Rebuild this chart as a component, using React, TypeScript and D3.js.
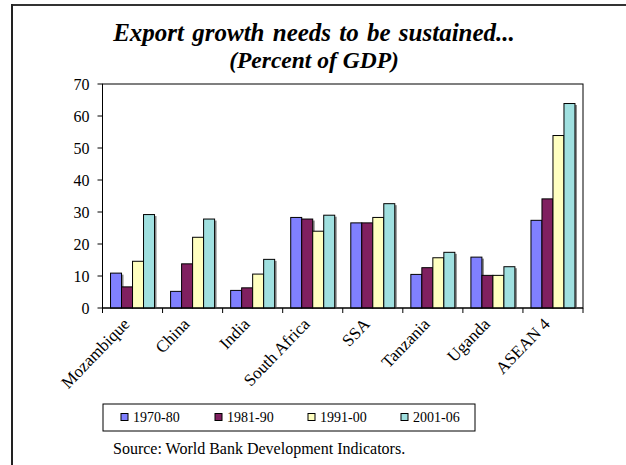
import React from "react";
import * as d3 from "d3";

const categories = ["Mozambique", "China", "India", "South Africa", "SSA", "Tanzania", "Uganda", "ASEAN 4"];
const seriesNames = ["1970-80", "1981-90", "1991-00", "2001-06"];
const s1970 = [10.9, 5.2, 5.5, 28.3, 26.6, 10.5, 15.9, 27.4];
const s1981 = [6.6, 13.8, 6.3, 27.8, 26.6, 12.6, 10.2, 34.1];
const s1991 = [14.6, 22.1, 10.6, 24.0, 28.3, 15.7, 10.2, 53.9];
const s2001 = [29.2, 27.8, 15.2, 29.0, 32.6, 17.4, 12.9, 63.9];
const yTicks = [0, 10, 20, 30, 40, 50, 60, 70];
const colors = ["#8080FF", "#802060", "#FFFFC0", "#A0E0E0"];

const series = [s1970, s1981, s1991, s2001];

export default function App() {
  const W = 626, H = 465;
  const left = 102.5, right = 583, top = 84, bottom = 308;
  const font = "Liberation Serif, Times New Roman, serif";
  const x = d3.scaleBand<string>().domain(categories).range([left, right]).paddingInner(0).paddingOuter(0);
  const y = d3.scaleLinear().domain([0, 70]).range([bottom, top]);
  const bw = 11;
  const groupW = bw * 4;

  return (
    <svg width={W} height={H} style={{ position: "absolute", left: 0, top: 0, background: "#fff", fontFamily: font }}>
      <rect x={0} y={0} width={W} height={H} fill="#fff" />
      {/* outer frame */}
      <line x1={11} y1={5} x2={W} y2={5} stroke="#333" strokeWidth={2} />
      <line x1={12} y1={4} x2={12} y2={H} stroke="#222" strokeWidth={2} />
      {/* title */}
      <text x={314} y={41} textAnchor="middle" fontSize={25} fontWeight="bold" fontStyle="italic" fill="#000" wordSpacing={2}>
        Export growth needs to be sustained...
      </text>
      <text x={314} y={68} textAnchor="middle" fontSize={23.5} fontWeight="bold" fontStyle="italic" fill="#000">
        (Percent of GDP)
      </text>
      {/* plot border */}
      <rect x={left} y={top} width={right - left} height={bottom - top} fill="none" stroke="#000" strokeWidth={1} />
      {/* bars */}
      {categories.map((c, i) => {
        const x0 = (x(c) as number) + (x.bandwidth() - groupW) / 2;
        return (
          <g key={c}>
            {series.map((s, j) => {
              const bx = x0 + j * bw;
              const by = y(s[i]);
              return (
                <g key={j}>
                  <rect x={bx + 2} y={by + 1.5} width={bw} height={Math.max(0, bottom - by - 1.5)} fill="#8a8a8a" />
                  <rect x={bx} y={by} width={bw} height={bottom - by} fill={colors[j]} stroke="#000" strokeWidth={1} />
                </g>
              );
            })}
          </g>
        );
      })}
      {/* y axis */}
      <line x1={left} y1={top} x2={left} y2={bottom} stroke="#000" strokeWidth={1} />
      {yTicks.map((t) => (
        <g key={t}>
          <line x1={left - 5} x2={left} y1={y(t)} y2={y(t)} stroke="#000" />
          <text x={left - 13} y={y(t)} dy="0.35em" textAnchor="end" fontSize={16} fill="#000">
            {t}
          </text>
        </g>
      ))}
      {/* x axis */}
      <line x1={left} y1={bottom} x2={right} y2={bottom} stroke="#000" strokeWidth={1} />
      {categories.map((c, i) => (
        <line key={"t" + i} x1={x(c) as number} x2={x(c) as number} y1={bottom} y2={bottom + 5} stroke="#000" />
      ))}
      <line x1={right} x2={right} y1={bottom} y2={bottom + 5} stroke="#000" />
      {categories.map((c) => {
        const cx = (x(c) as number) + x.bandwidth() / 2;
        return (
          <text key={c} transform={`translate(${cx - 2},${bottom + 17}) rotate(-46)`} textAnchor="end" fontSize={17} fill="#000">
            {c}
          </text>
        );
      })}
      {/* legend */}
      <rect x={103} y={404} width={372} height={27} fill="#fff" stroke="#000" strokeWidth={1} />
      {seriesNames.map((n, j) => {
        const lx = [121, 215, 308, 401][j];
        return (
          <g key={n}>
            <rect x={lx} y={413.5} width={7} height={7} fill={colors[j]} stroke="#000" strokeWidth={1} />
            <text x={lx + 12} y={421.5} fontSize={14} fill="#000">
              {n}
            </text>
          </g>
        );
      })}
      <text x={113} y={454} fontSize={16} fill="#000">
        Source: World Bank Development Indicators.
      </text>
    </svg>
  );
}
